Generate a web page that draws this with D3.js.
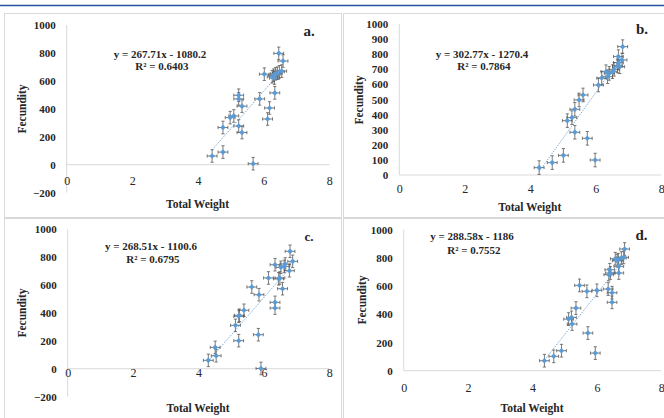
<!DOCTYPE html>
<html><head><meta charset="utf-8">
<script src="https://cdn.jsdelivr.net/npm/d3@7"></script>
<style>
html,body{margin:0;padding:0;background:#fff;overflow:hidden;}
svg{display:block;}
text{font-family:"Liberation Serif","DejaVu Serif",serif;font-weight:bold;fill:#262626;}
</style></head><body>
<svg id="chart" width="664" height="418"></svg>
<script>
// ---- data ----
const panelA_weight = [4.43,4.76,5.68,4.76,4.98,5.09,5.24,5.34,5.24,5.24,5.34,5.88,6.12,6.18,6.34,6.02,6.26,6.30,6.36,6.42,6.48,6.55,6.33,6.46,6.59];
const panelA_fecundity = [62,90,7,266,337,349,277,230,497,471,419,471,327,406,514,648,629,640,650,655,665,670,620,797,742];
const panelB_weight = [4.27,4.67,5.01,5.13,5.27,5.36,5.49,5.61,5.36,5.74,5.98,6.08,6.18,6.31,6.41,6.51,6.56,6.66,6.69,6.69,6.73,6.80,6.82,6.36];
const panelB_fecundity = [49,82,130,360,380,435,497,530,283,243,99,596,642,684,673,684,700,722,744,784,717,762,850,651];
const panelC_weight = [4.30,4.54,4.51,5.23,5.13,5.23,5.25,5.39,5.83,5.91,5.63,5.85,6.14,6.34,6.34,6.57,6.49,6.34,6.52,6.62,6.65,6.78,6.80,6.88,6.45];
const panelC_fecundity = [60,93,153,201,311,376,383,419,244,2,586,531,651,476,435,574,651,746,727,734,751,703,842,770,645];
const panelD_weight = [4.37,4.66,4.90,5.12,5.21,5.23,5.35,5.46,5.69,6.00,5.72,5.95,6.35,6.47,6.47,6.37,6.42,6.40,6.57,6.66,6.68,6.68,6.76,6.83,6.86,6.63];
const panelD_fecundity = [71,102,142,366,378,331,444,605,563,570,267,125,579,553,485,681,693,716,794,787,740,693,799,804,863,780];

const slopes = [267.71, 302.77, 268.51, 288.58];
const intercepts = [-1080.2, -1270.4, -1100.6, -1186];
const equations = ["y = 267.71x - 1080.2", "y = 302.77x - 1270.4", "y = 268.51x - 1100.6", "y = 288.58x - 1186"];
const rsquared = ["R² = 0.6403", "R² = 0.7864", "R² = 0.6795", "R² = 0.7552"];
const panelLabels = ["a.", "b.", "c.", "d."];
const xTicks = [0, 2, 4, 6, 8];
const yTicksA = [-200, 0, 200, 400, 600, 800, 1000];
const yTicksB = [0, 100, 200, 300, 400, 500, 600, 700, 800, 900, 1000];
const yTicksC = [-200, 0, 200, 400, 600, 800, 1000];
const yTicksD = [0, 200, 400, 600, 800, 1000];
const xErr = 0.15, yErr = 45;

// ---- layout ----
const panels = [
  {wx: panelA_weight, fy: panelA_fecundity, yTicks: yTicksA, yDom: [-200,1000],
   box:[4,13,341,217], x0:66.7, x8:329.3, yb:192.6, yt:25, xLabY:186, yTitleX:23, yTitleY:109, xTitleY:205,
   eqX:160, eqY:55, r2Y:67, lblX:309, lblY:33, lblSize:15},
  {wx: panelB_weight, fy: panelB_fecundity, yTicks: yTicksB, yDom: [0,1000],
   box:[343,13,664,217], x0:399.3, x8:661.3, yb:175, yt:24, xLabY:194.5, yTitleX:360, yTitleY:100, xTitleY:208,
   eqX:482, eqY:55, r2Y:67, lblX:642, lblY:31, lblSize:15},
  {wx: panelC_weight, fy: panelC_fecundity, yTicks: yTicksC, yDom: [-200,1000],
   box:[4,218,341,418], x0:67.7, x8:329.3, yb:396.6, yt:229.3, xLabY:378.5, yTitleX:23, yTitleY:313, xTitleY:409.5,
   eqX:151, eqY:247, r2Y:260, lblX:309, lblY:238.5, lblSize:13},
  {wx: panelD_weight, fy: panelD_fecundity, yTicks: yTicksD, yDom: [0,1000],
   box:[343,218,664,418], x0:403.7, x8:661.3, yb:370.7, yt:229.7, xLabY:393.5, yTitleX:363, yTitleY:300, xTitleY:409,
   eqX:472, eqY:237, r2Y:251, lblX:641.5, lblY:237, lblSize:15}
];

const svg = d3.select("#chart");
// top blue rule
svg.append("line").attr("x1",0).attr("x2",664).attr("y1",5.5).attr("y2",5.5)
  .attr("stroke","#2a4f9e").attr("stroke-width",1.6);

const blue = "#5b9bd5", grid = "#d9d9d9", errC = "#595959";

panels.forEach((p, i) => {
  const g = svg.append("g");
  const [bx0, by0, bx1, by1] = p.box;
  g.append("rect").attr("x", bx0+0.5).attr("y", by0+0.5).attr("width", bx1-bx0).attr("height", by1-by0)
    .attr("fill","none").attr("stroke","#d9d9d9").attr("stroke-width",1);

  const x = d3.scaleLinear().domain([0, 8]).range([p.x0, p.x8]);
  const y = d3.scaleLinear().domain(p.yDom).range([p.yb, p.yt]);

  // axis lines
  g.append("line").attr("x1", x(0)).attr("x2", x(0)).attr("y1", y(p.yDom[1])).attr("y2", y(p.yDom[0]))
    .attr("stroke", grid).attr("stroke-width", 1);
  g.append("line").attr("x1", x(0)).attr("x2", x(8)).attr("y1", y(0)).attr("y2", y(0))
    .attr("stroke", grid).attr("stroke-width", 1);

  // y tick labels
  const yAxis = d3.axisLeft(y).tickValues(p.yTicks).tickFormat(d3.format("d")).tickSize(0).tickPadding(11);
  const ya = g.append("g").attr("transform", `translate(${x(0)},0)`).call(yAxis);
  ya.select(".domain").remove();
  ya.selectAll("text").style("font-size","11px").style("font-family",'"Liberation Serif",serif')
    .style("font-weight","bold").attr("fill","#262626");

  // x tick labels
  const xAxis = d3.axisBottom(x).tickValues(xTicks).tickFormat(d3.format("d")).tickSize(0).tickPadding(0);
  const xa = g.append("g").attr("transform", `translate(0,${p.xLabY - 4})`).call(xAxis);
  xa.select(".domain").remove();
  xa.selectAll("text").attr("dy", null).attr("dominant-baseline","middle")
    .style("font-size","12px").style("font-family",'"Liberation Serif",serif')
    .style("font-weight","normal").attr("fill","#404040");

  // titles
  g.append("text").attr("transform", `translate(${p.yTitleX},${p.yTitleY}) rotate(-90)`)
    .attr("text-anchor","middle").attr("dominant-baseline","middle").style("font-size","11.5px").text("Fecundity");
  g.append("text").attr("x", (p.x0 + p.x8)/2 - 0.5).attr("y", p.xTitleY).attr("text-anchor","middle")
    .attr("dominant-baseline","middle").style("font-size","11.5px").text("Total Weight");

  // trendline
  const xs = d3.extent(p.wx);
  g.append("line").attr("x1", x(xs[0])).attr("x2", x(xs[1]))
    .attr("y1", y(slopes[i]*xs[0] + intercepts[i])).attr("y2", y(slopes[i]*xs[1] + intercepts[i]))
    .attr("stroke", blue).attr("stroke-width", 0.9).attr("stroke-dasharray","1.2,1.2");

  // points with error bars
  const pts = p.wx.map((w, k) => ({w, f: p.fy[k]}));
  const e = g.append("g");
  pts.forEach(d => {
    const cx = x(d.w), cy = y(d.f);
    const xl = x(d.w - xErr), xr = x(d.w + xErr), yt = y(d.f + yErr), yb2 = y(d.f - yErr);
    e.append("path").attr("d",
      `M${xl},${cy}H${xr}M${xl},${cy-1.6}V${cy+1.6}M${xr},${cy-1.6}V${cy+1.6}` +
      `M${cx},${yt}V${yb2}M${cx-1.6},${yt}H${cx+1.6}M${cx-1.6},${yb2}H${cx+1.6}`)
      .attr("stroke", errC).attr("stroke-width", 0.8).attr("fill","none");
  });
  g.append("g").selectAll("path").data(pts).join("path")
    .attr("d", d => { const cx = x(d.w), cy = y(d.f), r = 2.8;
      return `M${cx},${cy-r}L${cx+r},${cy}L${cx},${cy+r}L${cx-r},${cy}Z`; })
    .attr("fill", blue);

  // equation
  g.append("text").attr("x", p.eqX).attr("y", p.eqY).attr("text-anchor","middle")
    .attr("dominant-baseline","middle").style("font-size","11px").text(equations[i]);
  g.append("text").attr("x", p.eqX + 2).attr("y", p.r2Y).attr("text-anchor","middle")
    .attr("dominant-baseline","middle").style("font-size","11px").text(rsquared[i]);
  g.append("text").attr("x", p.lblX).attr("y", p.lblY).attr("text-anchor","middle")
    .attr("dominant-baseline","middle").style("font-size", p.lblSize + "px").text(panelLabels[i]);
});
</script>
</body></html>
